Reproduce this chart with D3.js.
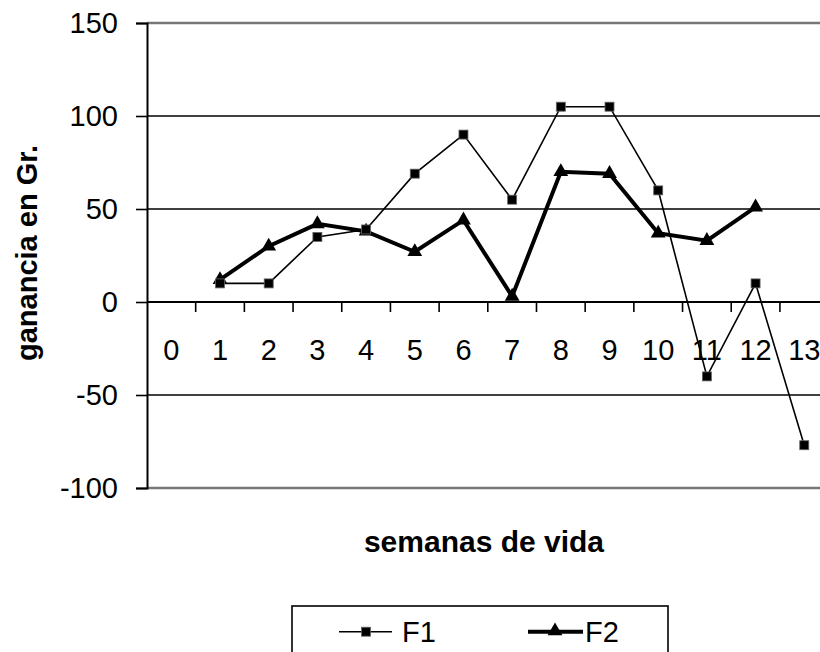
<!DOCTYPE html>
<html>
<head>
<meta charset="utf-8">
<script src="https://cdn.jsdelivr.net/npm/d3@7"></script>
<style>
  body { margin: 0; background: #fff; }
  svg { display: block; font-family: "Liberation Sans", Arial, sans-serif; }
</style>
</head>
<body>
<div id="chart"></div>
<script>
  // semanas 0..13
  const weeks = [0, 1, 2, 3, 4, 5, 6, 7, 8, 9, 10, 11, 12, 13];
  const f1Weeks = [1, 2, 3, 4, 5, 6, 7, 8, 9, 10, 11, 12, 13];
  const f1Values = [10, 10, 35, 39, 69, 90, 55, 105, 105, 60, -40, 10, -77];
  const f2Weeks = [1, 2, 3, 4, 5, 6, 7, 8, 9, 10, 11, 12];
  const f2Values = [12, 30, 42, 38, 27, 44, 3, 70, 69, 37, 33, 51];
  const yTicks = [-100, -50, 0, 50, 100, 150];
  const seriesNames = ['F1', 'F2'];

  const width = 820;
  const height = 652;

  const svg = d3.select('#chart')
    .append('svg')
    .attr('width', width)
    .attr('height', height);

  const x = d3.scaleBand()
    .domain(weeks)
    .range([147, 828.6])
    .padding(0);

  const y = d3.scaleLinear()
    .domain([-100, 150])
    .range([488, 23]);

  // plot area border (top/bottom, grey)
  svg.append('line')
    .attr('x1', 147).attr('x2', width)
    .attr('y1', y(150)).attr('y2', y(150))
    .attr('stroke', '#777').attr('stroke-width', 2.5);
  svg.append('line')
    .attr('x1', 147).attr('x2', width)
    .attr('y1', y(-100)).attr('y2', y(-100))
    .attr('stroke', '#777').attr('stroke-width', 2.5);

  // gridlines
  svg.append('g')
    .selectAll('line')
    .data(yTicks.filter(d => d !== 0 && d !== 150 && d !== -100))
    .join('line')
      .attr('x1', 147).attr('x2', width)
      .attr('y1', d => y(d)).attr('y2', d => y(d))
      .attr('stroke', '#000').attr('stroke-width', 1.4);

  // y axis
  svg.append('g')
    .attr('transform', 'translate(147,0)')
    .call(d3.axisLeft(y).tickValues(yTicks).tickFormat(d => String(d)).tickSize(11).tickPadding(18))
    .call(g => g.select('.domain').attr('stroke-width', 2))
    .call(g => g.selectAll('.tick line').attr('stroke-width', 1.6))
    .call(g => g.selectAll('text').attr('font-size', '29px').attr('fill', '#000'));

  // x axis at zero: labels centred in each band
  svg.append('g')
    .attr('transform', `translate(0,${y(0)})`)
    .call(d3.axisBottom(x).tickSize(0).tickPadding(37))
    .call(g => g.select('.domain').attr('stroke-width', 2).attr('d', `M147,0H${width}`))
    .call(g => g.selectAll('text').attr('font-size', '29px').attr('fill', '#000'));

  // tick marks between categories
  svg.append('g')
    .selectAll('line')
    .data(weeks.slice(1))
    .join('line')
      .attr('x1', d => x(d)).attr('x2', d => x(d))
      .attr('y1', y(0)).attr('y2', y(0) + 10)
      .attr('stroke', '#000').attr('stroke-width', 1.6);

  const cx = d => x(d) + x.bandwidth() / 2;

  const f1 = f1Weeks.map((w, i) => ({ w, v: f1Values[i] }));
  const f2 = f2Weeks.map((w, i) => ({ w, v: f2Values[i] }));

  const line = d3.line().x(d => cx(d.w)).y(d => y(d.v));

  svg.append('path')
    .datum(f1)
    .attr('d', line)
    .attr('fill', 'none')
    .attr('stroke', '#000')
    .attr('stroke-width', 1.6);

  svg.append('path')
    .datum(f2)
    .attr('d', line)
    .attr('fill', 'none')
    .attr('stroke', '#000')
    .attr('stroke-width', 4);

  const tri = d3.symbol().type(d3.symbolTriangle).size(95);

  svg.append('g')
    .selectAll('path')
    .data(f2)
    .join('path')
      .attr('d', tri)
      .attr('transform', d => `translate(${cx(d.w)},${y(d.v)})`)
      .attr('fill', '#000');

  svg.append('g')
    .selectAll('rect')
    .data(f1)
    .join('rect')
      .attr('x', d => cx(d.w) - 4.5)
      .attr('y', d => y(d.v) - 4.5)
      .attr('width', 9).attr('height', 9)
      .attr('fill', '#000')
      .attr('stroke', '#666')
      .attr('stroke-width', 0.8);

  // axis titles
  svg.append('text')
    .attr('text-anchor', 'middle')
    .attr('transform', 'translate(37,253) rotate(-90)')
    .attr('font-size', '29px')
    .attr('font-weight', 'bold')
    .text('ganancia en Gr.');

  svg.append('text')
    .attr('x', 484).attr('y', 551.7)
    .attr('text-anchor', 'middle')
    .attr('font-size', '30px')
    .attr('font-weight', 'bold')
    .text('semanas de vida');

  // legend
  const legend = svg.append('g');
  legend.append('rect')
    .attr('x', 292).attr('y', 606)
    .attr('width', 376).attr('height', 70)
    .attr('fill', '#fff')
    .attr('stroke', '#000').attr('stroke-width', 1.6);

  legend.append('line')
    .attr('x1', 339).attr('x2', 392).attr('y1', 631.7).attr('y2', 631.7)
    .attr('stroke', '#000').attr('stroke-width', 1.6);
  legend.append('rect')
    .attr('x', 361.5).attr('y', 627.2).attr('width', 9).attr('height', 9)
    .attr('fill', '#000').attr('stroke', '#666').attr('stroke-width', 0.8);
  legend.append('text')
    .attr('x', 402).attr('y', 641.5)
    .attr('font-size', '29px')
    .text(seriesNames[0]);

  legend.append('line')
    .attr('x1', 528).attr('x2', 583).attr('y1', 631.7).attr('y2', 631.7)
    .attr('stroke', '#000').attr('stroke-width', 4);
  legend.append('path')
    .attr('d', tri)
    .attr('transform', 'translate(555,631)')
    .attr('fill', '#000');
  legend.append('text')
    .attr('x', 585).attr('y', 641.5)
    .attr('font-size', '29px')
    .text(seriesNames[1]);
</script>
</body>
</html>
